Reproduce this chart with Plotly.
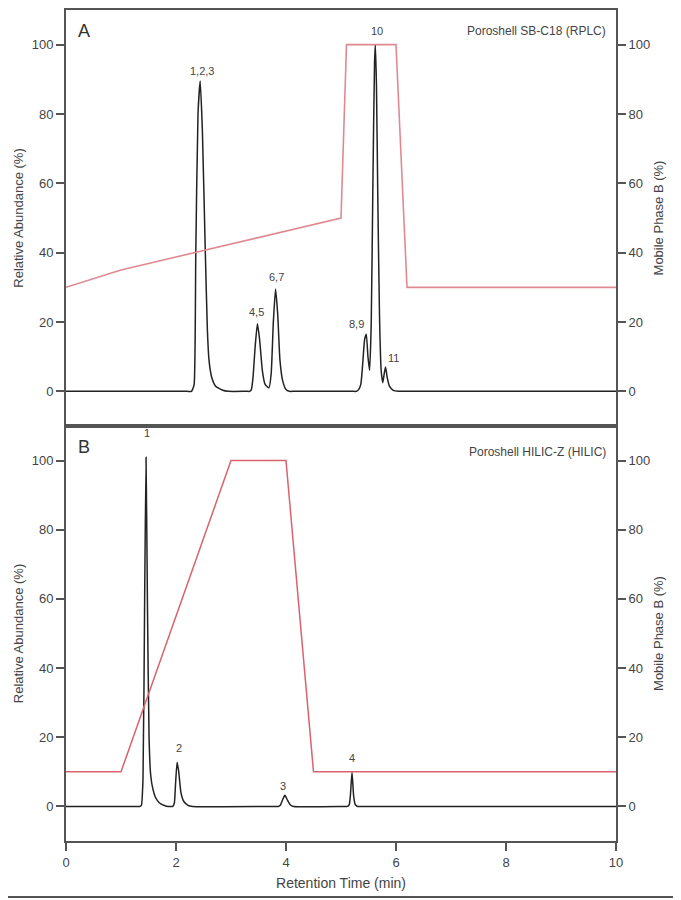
import plotly.graph_objects as go

# ---------------------------------------------------------------
# Data

# Panel A - Poroshell SB-C18 (RPLC) chromatogram
time_a = [0, 2.20, 2.28, 2.30, 2.33, 2.36, 2.40, 2.44, 2.48, 2.53, 2.57, 2.60, 2.65,
          2.72, 2.85, 2.95, 3.28, 3.34,
          3.37, 3.40, 3.44, 3.48, 3.52, 3.57, 3.62, 3.69, 3.73, 3.77, 3.81, 3.85,
          3.89, 3.94, 4.00, 4.06, 4.15, 5.20, 5.28,
          5.32, 5.36, 5.39, 5.43, 5.46, 5.49, 5.52, 5.55, 5.58, 5.61, 5.625, 5.645,
          5.67, 5.70, 5.73, 5.76, 5.79, 5.81, 5.84, 5.88, 5.95, 6.05, 6.15, 10]
abund_a = [0, 0, 0, 0.5, 2, 40, 80, 89.5, 75, 42, 18, 9, 4,
           1.5, 0.3, 0, 0, 0,
           0.5, 4, 13, 19.5, 15, 6, 2, 1, 5, 20, 29.5, 22,
           9, 3, 0.5, 0, 0, 0, 0,
           0.5, 2, 7, 15, 16.5, 10, 6, 20, 60, 95, 100, 88,
           55, 22, 6, 2.5, 5.5, 7, 4, 1.5, 0.3, 0, 0, 0]

# Panel A - mobile phase B gradient
grad_time_a = [0, 1, 5, 5.1, 6.0, 6.2, 10]
grad_b_a = [30, 35, 50, 100, 100, 30, 30]

# Panel B - Poroshell HILIC-Z (HILIC) chromatogram
time_b = [0, 1.28, 1.34, 1.37, 1.40, 1.43, 1.455, 1.48, 1.51, 1.54, 1.58, 1.63,
          1.70, 1.80, 1.86, 1.90, 1.94,
          1.97, 1.99, 2.02, 2.05, 2.09, 2.14, 2.22, 2.30, 3.80, 3.86,
          3.90, 3.94, 3.98, 4.02, 4.08, 4.14, 5.06, 5.12,
          5.15, 5.17, 5.20, 5.23, 5.26, 5.30, 5.36, 10]
abund_b = [0, 0, 0, 0.3, 8, 60, 101, 60, 20, 9, 5, 2.5,
           1, 0.2, 0, 0, 0,
           1, 6, 12.8, 10, 4, 1.5, 0.3, 0, 0, 0,
           0.4, 2, 3.2, 2, 0.4, 0, 0, 0,
           0.5, 3, 9.9, 3, 0.5, 0, 0, 0]

# Panel B - mobile phase B gradient
grad_time_b = [0, 1, 3, 4, 4.5, 10]
grad_b_b = [10, 10, 100, 100, 10, 10]

# Peak labels
labels_a = ["1,2,3", "4,5", "6,7", "8,9", "10", "11"]
label_x_a = [2.47, 3.47, 3.83, 5.28, 5.65, 5.96]
label_y_a = [92.5, 23, 33, 19.5, 104, 9.5]

labels_b = ["1", "2", "3", "4"]
label_x_b = [1.48, 2.05, 3.95, 5.2]
label_y_b = [108, 17, 6, 14]

#-----------------------------------------------------------------

font_family = "Liberation Sans, Arial, sans-serif"
grey = "#555555"
red_a = "#df8a91"
red_b = "#d9636c"

fig = go.Figure()

fig.add_trace(go.Scatter(x=grad_time_a, y=grad_b_a, mode="lines", xaxis="x", yaxis="y2",
                         line=dict(color=red_a, width=1.6)))
fig.add_trace(go.Scatter(x=time_a, y=abund_a, mode="lines", xaxis="x", yaxis="y",
                         line=dict(color="#222222", width=1.5, shape="spline", smoothing=0.5)))
fig.add_trace(go.Scatter(x=grad_time_b, y=grad_b_b, mode="lines", xaxis="x2", yaxis="y4",
                         line=dict(color=red_b, width=1.5)))
fig.add_trace(go.Scatter(x=time_b, y=abund_b, mode="lines", xaxis="x2", yaxis="y3",
                         line=dict(color="#222222", width=1.5, shape="spline", smoothing=0.5)))

# page body adds 8px offset, so the figure is 8px smaller than the window
split = (833 - 418) / 831

axis_common = dict(range=[-10, 110], showgrid=False, zeroline=False, showline=True,
                   linecolor=grey, linewidth=2, ticks="outside", ticklen=8, tickwidth=1.5,
                   tickcolor=grey, tickvals=[0, 20, 40, 60, 80, 100], automargin=False,
                   tickfont=dict(size=13, color="#444444"))
x_common = dict(range=[0, 10], showgrid=False, zeroline=False, showline=True, mirror=True,
                linecolor=grey, linewidth=2, automargin=False)

fig.update_layout(
    width=673, height=892,
    margin=dict(l=58, r=65, t=2, b=59),
    paper_bgcolor="white", plot_bgcolor="white",
    showlegend=False,
    font=dict(family=font_family, color="#444444"),
    xaxis=dict(**x_common, domain=[0, 1], anchor="y", showticklabels=False, ticks=""),
    xaxis2=dict(**x_common, domain=[0, 1], anchor="y3", ticks="outside", ticklen=8,
                tickwidth=1.5, tickcolor=grey, tickvals=[0, 2, 4, 6, 8, 10],
                tickfont=dict(size=13, color="#444444"),
                title=dict(text="Retention Time (min)", font=dict(size=14), standoff=10)),
    yaxis=dict(**axis_common, domain=[split, 1], anchor="x",
               title=dict(text="Relative Abundance (%)", font=dict(size=13), standoff=5)),
    yaxis2=dict(**axis_common, domain=[split, 1], anchor="x", overlaying="y", side="right",
                title=dict(text="Mobile Phase B (%)", font=dict(size=13), standoff=5)),
    yaxis3=dict(**axis_common, domain=[0, split], anchor="x2",
                title=dict(text="Relative Abundance (%)", font=dict(size=13), standoff=5)),
    yaxis4=dict(**axis_common, domain=[0, split], anchor="x2", overlaying="y3", side="right",
                title=dict(text="Mobile Phase B (%)", font=dict(size=13), standoff=5)),
)

# peak labels
for txt, lx, ly in zip(labels_a, label_x_a, label_y_a):
    fig.add_annotation(x=lx, y=ly, xref="x", yref="y", text=txt, showarrow=False,
                       font=dict(size=11, color="#444444"))
for txt, lx, ly in zip(labels_b, label_x_b, label_y_b):
    fig.add_annotation(x=lx, y=ly, xref="x2", yref="y3", text=txt, showarrow=False,
                       font=dict(size=11, color="#444444"))

# panel letters and column names
fig.add_annotation(x=0.18, y=104, xref="x", yref="y", text="A", showarrow=False,
                   xanchor="left", font=dict(size=18, color="#333333"))
fig.add_annotation(x=0.18, y=104, xref="x2", yref="y3", text="B", showarrow=False,
                   xanchor="left", font=dict(size=18, color="#333333"))
fig.add_annotation(x=9.85, y=104, xref="x", yref="y", text="Poroshell SB-C18 (RPLC)",
                   showarrow=False, xanchor="right", font=dict(size=12, color="#444444"))
fig.add_annotation(x=9.85, y=102.5, xref="x2", yref="y3", text="Poroshell HILIC-Z (HILIC)",
                   showarrow=False, xanchor="right", font=dict(size=12, color="#444444"))

# separator line at the very bottom of the figure
fig.add_shape(type="line", xref="paper", yref="paper", x0=-0.2, x1=1.2,
              y0=-56 / 831, y1=-56 / 831, line=dict(color=grey, width=2))

fig.write_html("out.html")
